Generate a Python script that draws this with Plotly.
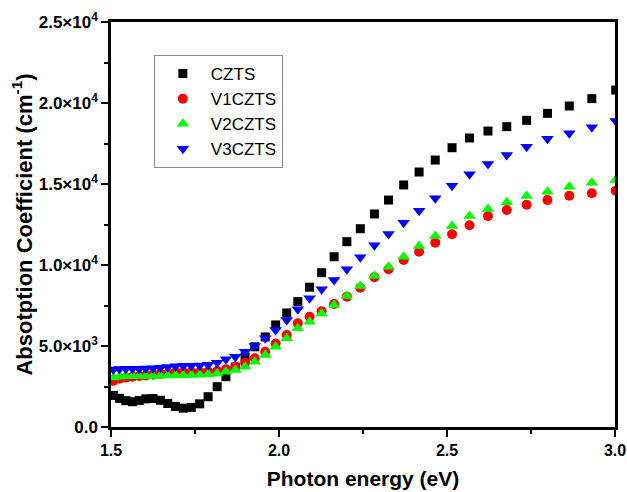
import plotly.graph_objects as go

# Photon energy grid (eV)
energy = [
    3.002, 2.931, 2.864, 2.799, 2.737, 2.678, 2.622, 2.567, 2.515, 2.465,
    2.417, 2.371, 2.326, 2.284, 2.242, 2.202, 2.164, 2.127, 2.091, 2.056,
    2.023, 1.990, 1.959, 1.928, 1.899, 1.870, 1.842, 1.816, 1.789, 1.764,
    1.739, 1.715, 1.692, 1.669, 1.647, 1.625, 1.604, 1.584, 1.564, 1.544,
    1.525, 1.507,
]

# Absorption coefficient (cm^-1) for each sample
czts = [
    20800, 20270, 19815, 19360, 18930, 18540, 18270, 17840, 17240, 16480,
    15740, 14940, 14010, 13150, 12240, 11440, 10510, 9525, 8630, 7740,
    7040, 6300, 5560, 4950, 4330, 3700, 3105, 2490, 1870, 1430,
    1210, 1160, 1270, 1450, 1650, 1760, 1740, 1640, 1560, 1625,
    1770, 1950,
]
v1czts = [
    14590, 14430, 14280, 14010, 13720, 13400, 13025, 12450, 11900, 11380,
    10820, 10310, 9735, 9240, 8600, 8045, 7590, 7150, 6800, 6400,
    5680, 5150, 4650, 4240, 3970, 3720, 3560, 3460, 3420, 3400,
    3400, 3400, 3380, 3320, 3280, 3230, 3180, 3150, 3100, 3050,
    2980, 2850,
]
v2czts = [
    15250, 15080, 14830, 14525, 14260, 13870, 13460, 13025, 12410, 11790,
    11170, 10510, 9895, 9320, 8700, 8090, 7530, 7000, 6500, 6090,
    5475, 4955, 4445, 4030, 3720, 3520, 3410, 3300, 3260, 3230,
    3210, 3200, 3200, 3180, 3160, 3150, 3150, 3150, 3150, 3130,
    3100, 3050,
]
v3czts = [
    18890, 18500, 18130, 17800, 17300, 16790, 16235, 15600, 14890, 14120,
    13350, 12610, 11915, 11215, 10475, 9735, 9075, 8500, 7950, 7265,
    6605, 5990, 5475, 5000, 4650, 4340, 4180, 3970, 3850, 3800,
    3780, 3780, 3750, 3700, 3660, 3630, 3610, 3600, 3600, 3600,
    3580, 3550,
]

series_names = ["CZTS", "V1CZTS", "V2CZTS", "V3CZTS"]
series_values = [czts, v1czts, v2czts, v3czts]
series_colors = ["#000000", "#ff0000", "#00ff00", "#0000ff"]
series_symbols = ["square", "circle", "triangle-up", "triangle-down"]
series_sizes = [9, 10, 11, 11]

x_tick_vals = [1.5, 2.0, 2.5, 3.0]
x_tick_text = ["1.5", "2.0", "2.5", "3.0"]
y_tick_vals = [0, 5000, 10000, 15000, 20000, 25000]
y_tick_text = ["0.0", "5.0×10<sup>3</sup>", "1.0×10<sup>4</sup>",
               "1.5×10<sup>4</sup>", "2.0×10<sup>4</sup>", "2.5×10<sup>4</sup>"]

FONT = "Liberation Sans, Arial, sans-serif"

fig = go.Figure()
for name, vals, color, sym, size in zip(series_names, series_values,
                                         series_colors, series_symbols, series_sizes):
    fig.add_trace(go.Scatter(
        x=energy, y=vals, mode="markers", name=name,
        marker=dict(symbol=sym, color=color, size=size, line=dict(width=0)),
    ))

axis_common = dict(
    showline=True, linecolor="black", linewidth=2.5, mirror=True,
    ticks="outside", tickcolor="black", tickwidth=2, ticklen=7,
    showgrid=False, zeroline=False,
)

fig.update_xaxes(
    range=[1.5, 3.0], tickvals=x_tick_vals, ticktext=x_tick_text,
    tickfont=dict(family=FONT, size=16, color="black", weight="bold"),
    minor=dict(ticks="outside", dtick=0.25, ticklen=4, tickwidth=2, tickcolor="black"),
    title=dict(text="Photon energy (eV)", standoff=14,
               font=dict(family=FONT, size=21, color="black", weight="bold")),
    **axis_common,
)
fig.update_yaxes(
    range=[0, 25000], tickvals=y_tick_vals, ticktext=y_tick_text,
    tickfont=dict(family=FONT, size=17, color="black", weight="bold"),
    minor=dict(ticks="outside", dtick=2500, ticklen=4, tickwidth=2, tickcolor="black"),
    title=dict(text="Absotption Coefficient (cm<sup>-1</sup>)", standoff=1,
               font=dict(family=FONT, size=22, color="black", weight="bold")),
    **axis_common,
)

fig.update_layout(
    width=627, height=492,
    margin=dict(l=111, r=12, t=22, b=65, autoexpand=False),
    paper_bgcolor="white", plot_bgcolor="white",
    showlegend=True,
    legend=dict(
        x=0.085, y=0.9185, xanchor="left", yanchor="top",
        bordercolor="#888888", borderwidth=1, bgcolor="white",
        font=dict(family=FONT, size=17, color="black"),
        itemwidth=46,
    ),
)

fig.write_html("out.html")
